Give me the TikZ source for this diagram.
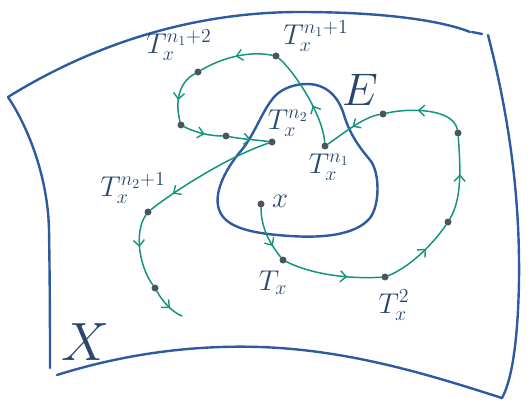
\documentclass[tikz,border=0pt]{standalone}
\usetikzlibrary{arrows.meta,decorations.markings}
\definecolor{frameblue}{RGB}{45,90,160}
\definecolor{orbit}{RGB}{20,147,127}
\definecolor{dotgray}{RGB}{75,84,96}
\definecolor{ink}{RGB}{40,70,110}
\tikzset{
  framel/.style={frameblue,line width=2.4pt,line cap=round},
  blob/.style={frameblue,line width=2.4pt},
  orb/.style={orbit,line width=1.5pt,line cap=round},
  midarr/.style={postaction={decorate},decoration={markings,
     mark=at position #1 with {\arrow{Straight Barb[length=6pt,width=11pt,line width=1.4pt]}}}},
  pt/.style={circle,fill=dotgray,inner sep=0pt,minimum size=7pt},
  lab/.style={ink,font=\fontsize{20}{20}\selectfont,inner sep=0pt,scale=1.38},
  biglab/.style={ink,font=\fontsize{20}{20}\selectfont,inner sep=0pt,scale=#1},
}
\begin{document}
\begin{tikzpicture}[x=1pt,y=-1pt]
\useasboundingbox (0,0) rectangle (532,403);
% sheet X
\draw[framel] (8,97) .. controls (100,40) and (200,12) .. (300,12) .. controls (380,12) and (440,20) .. (470,32);
\draw[framel] (472,32) -- (482,34);
\draw[framel] (488,35) .. controls (510,120) and (520,200) .. (519,280) .. controls (518,340) and (512,380) .. (502,398);
\draw[framel] (57,375) .. controls (130,352) and (200,345) .. (260,347) .. controls (350,350) and (430,375) .. (502,398);
\draw[framel] (8,97) .. controls (30,130) and (48,180) .. (49,230) .. controls (50,290) and (50,340) .. (50,368);
% set E
\draw[blob] (307,84) .. controls (325,84) and (338,95) .. (344,115)
  .. controls (350,135) and (360,148) .. (370,160)
  .. controls (380,172) and (380,205) .. (370,218)
  .. controls (355,236) and (320,238) .. (290,236)
  .. controls (260,234) and (228,230) .. (220,212)
  .. controls (212,195) and (225,170) .. (240,152)
  .. controls (255,135) and (262,110) .. (275,96)
  .. controls (283,88) and (295,84) .. (307,84) -- cycle;
% points
\node[pt] (x) at (261,204) {};
\node[pt] (Tx) at (283,260) {};
\node[pt] (T2) at (385,277) {};
\node[pt] (p3) at (448,222) {};
\node[pt] (p4) at (458,133) {};
\node[pt] (p5) at (383,114) {};
\node[pt] (Tn1) at (325,146) {};
\node[pt] (Tn1a) at (276,56) {};
\node[pt] (Tn1b) at (198,72) {};
\node[pt] (p9) at (181,125) {};
\node[pt] (p10) at (226,136) {};
\node[pt] (Tn2) at (272,142) {};
\node[pt] (Tn2a) at (148,212) {};
\node[pt] (p13) at (155,288) {};
\coordinate (fin) at (182,316);
% orbit
\draw[orb,midarr=0.75] (x) .. controls +(0,25) and +(-12,-15) .. (Tx);
\draw[orb,midarr=0.65] (Tx) .. controls +(30,15) and +(-35,2) .. (T2);
\draw[orb,midarr=0.6] (T2) .. controls +(25,-10) and +(-15,22) .. (p3);
\draw[orb,midarr=0.55] (p3) .. controls +(15,-25) and +(2,30) .. (p4);
\draw[orb,midarr=0.6] (p4) .. controls +(-5,-25) and +(25,-6) .. (p5);
\draw[orb,midarr=0.5] (p5) .. controls +(-20,3) and +(15,-10) .. (Tn1);
\draw[orb,midarr=0.4] (Tn1) .. controls +(-3,-35) and +(15,12) .. (Tn1a);
\draw[orb,midarr=0.5] (Tn1a) .. controls +(-30,-6) and +(20,-12) .. (Tn1b);
\draw[orb,midarr=0.6] (Tn1b) .. controls +(-22,12) and +(-5,-18) .. (p9);
\draw[orb,midarr=0.55] (p9) .. controls +(15,8) and +(-15,0) .. (p10);
\draw[orb,midarr=0.55] (p10) .. controls +(15,3) and +(-15,-2) .. (Tn2);
\draw[orb,midarr=0.8] (Tn2) .. controls +(-45,15) and +(25,-20) .. (Tn2a);
\draw[orb,midarr=0.45] (Tn2a) .. controls +(-14,20) and +(-16,-22) .. (p13);
\draw[orb,midarr=0.6] (p13) .. controls +(8,14) and +(-10,-4) .. (fin);
% labels
\node[lab] (lx) at (280,201) {$x$};
\node[lab] (lTx) at (273,283) {$T_x$};
\node[lab] (lT2) at (394,305) {$T^2_x$};
\node[lab] (lTn1) at (329,167) {$T^{n_1}_x$};
\node[lab] (lTn1a) at (316,36) {$T^{n_1+1}_x$};
\node[lab] (lTn1b) at (179,45) {$T^{n_1+2}_x$};
\node[lab] (lTn2) at (288,123) {$T^{n_2}_x$};
\node[lab] (lTn2a) at (133,188) {$T^{n_2+1}_x$};
\node[biglab=2.2] (lE) at (360,90) {$E$};
\node[biglab=2.6] (lX) at (86,342) {$X$};
\end{tikzpicture}
\end{document}
